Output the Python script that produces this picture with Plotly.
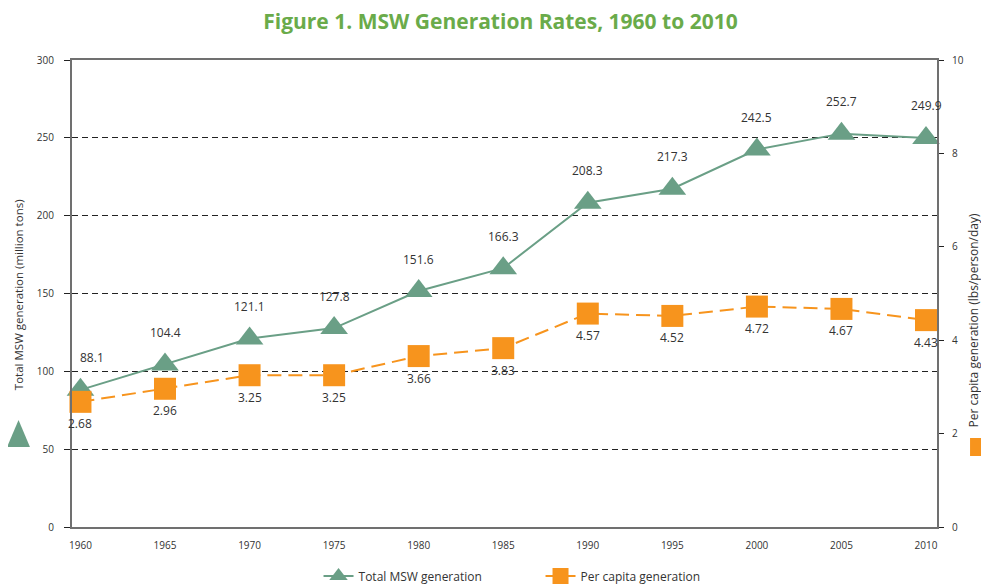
import plotly.graph_objects as go

years = [1960, 1965, 1970, 1975, 1980, 1985, 1990, 1995, 2000, 2005, 2010]
total_msw = [88.1, 104.4, 121.1, 127.8, 151.6, 166.3, 208.3, 217.3, 242.5, 252.7, 249.9]
per_capita = [2.68, 2.96, 3.25, 3.25, 3.66, 3.83, 4.57, 4.52, 4.72, 4.67, 4.43]
total_labels = [f"{v:.1f}" for v in total_msw]
capita_labels = [f"{v:.2f}" for v in per_capita]

green = "#6a9f86"
orange = "#f7941d"
font_family = "Open Sans, Noto Sans, sans-serif"

fig = go.Figure()
fig.add_trace(go.Scatter(
    x=years, y=total_msw, name="Total MSW generation",
    mode="lines+markers",
    line=dict(color=green, width=2),
    marker=dict(symbol="triangle-up", size=24, color=green),
    cliponaxis=False,
))
fig.add_trace(go.Scatter(
    x=years, y=per_capita, name="Per capita generation", yaxis="y2",
    mode="lines+markers",
    line=dict(color=orange, width=2, dash="14px,7px"),
    marker=dict(symbol="square", size=22, color=orange),
    cliponaxis=False,
))

for i, (yr, v, lab) in enumerate(zip(years, total_msw, total_labels)):
    fig.add_annotation(x=yr, y=v, xref="x", yref="y", text=lab, showarrow=False,
                       yshift=32, xshift=(12 if i == 0 else 0),
                       font=dict(size=12, color="#333333"))
for yr, v, lab in zip(years, per_capita, capita_labels):
    fig.add_annotation(x=yr, y=v, xref="x", yref="y2", text=lab, showarrow=False,
                       yshift=-22, font=dict(size=12, color="#333333"))

axis_col = "#707070"
fig.update_layout(
    width=981, height=578,
    margin=dict(l=64, r=52, t=52, b=59, autoexpand=False),
    paper_bgcolor="white", plot_bgcolor="white",
    font=dict(family=font_family, size=11, color="#333333"),
    title=dict(text="<b>Figure 1. MSW Generation Rates, 1960 to 2010</b>",
               x=0.502, xanchor="center", y=0.976, yanchor="middle",
               font=dict(size=21, color="#6aab4a", family=font_family)),
    xaxis=dict(range=[1959.5, 2010.65], tickvals=years, ticktext=[str(y) for y in years],
               showgrid=False, showline=True, linecolor=axis_col, linewidth=2, mirror=True,
               ticks="", tickfont=dict(size=10), ticklabelstandoff=8, zeroline=False),
    yaxis=dict(range=[0, 300], tickvals=[0, 50, 100, 150, 200, 250, 300],
               showgrid=True, gridcolor="#222222", griddash="6px,4px", gridwidth=1,
               showline=True, linecolor=axis_col, linewidth=2,
               ticks="outside", ticklen=6, tickcolor="#222222", tickfont=dict(size=10),
               ticklabelstandoff=8, zeroline=False),
    yaxis2=dict(range=[0, 10], tickvals=[0, 2, 4, 6, 8, 10], overlaying="y", side="right",
                showgrid=False, showline=True, linecolor=axis_col, linewidth=2,
                ticks="outside", ticklen=5, tickcolor="#222222", tickfont=dict(size=10),
                ticklabelstandoff=6, zeroline=False),
    legend=dict(orientation="h", x=0.285, xanchor="left", y=-0.105, yanchor="middle",
                font=dict(size=12), entrywidth=177, entrywidthmode="pixels",
                traceorder="normal"),
    showlegend=True,
)

fig.add_annotation(text="Total MSW generation (million tons)", textangle=-90,
                   xref="paper", yref="paper", x=-0.061, y=0.497, xanchor="center", yanchor="middle",
                   showarrow=False, font=dict(size=11.5, color="#333333"))
fig.add_shape(type="path", xref="paper", yref="paper",
              path="M -0.0751 0.1713 L -0.0486 0.1713 L -0.0618 0.2291 Z",
              fillcolor=green, line=dict(width=0))
fig.add_annotation(text="Per capita generation (lbs/person/day)", textangle=-90,
                   xref="paper", yref="paper", x=1.042, y=0.443, xanchor="center", yanchor="middle",
                   showarrow=False, font=dict(size=12, color="#333333"))
fig.add_shape(type="rect", xref="paper", yref="paper",
              x0=1.0382, x1=1.067, y0=0.152, y1=0.1906,
              fillcolor=orange, line=dict(width=0))

fig.write_html("out.html")
